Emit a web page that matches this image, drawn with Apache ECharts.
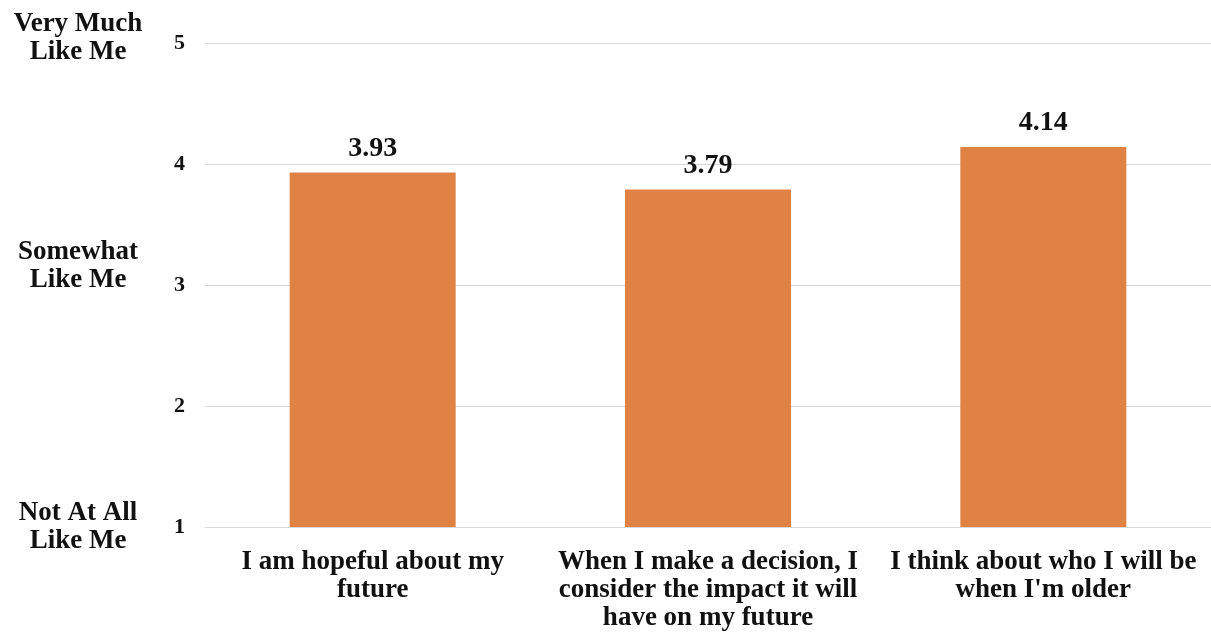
<!DOCTYPE html>
<html>
<head>
<meta charset="utf-8">
<script src="https://cdn.jsdelivr.net/npm/echarts@6/dist/echarts.min.js"></script>
<style>
  html, body { margin: 0; padding: 0; background: #fff; }
  #chart { width: 1211px; height: 637px; }
</style>
</head>
<body>
<div id="chart"></div>
<script>
const categories = [
  "I am hopeful about my\nfuture",
  "When I make a decision, I\nconsider the impact it will\nhave on my future",
  "I think about who I will be\nwhen I'm older"
];
const values = [3.93, 3.79, 4.14];
const yTicks = [1, 2, 3, 4, 5];
const scaleLabels = { 5: "Very Much\nLike Me", 3: "Somewhat\nLike Me", 1: "Not At All\nLike Me" };

const FONT = '"Liberation Serif", "Times New Roman", serif';
const TEXT = '#111111';

const chart = echarts.init(document.getElementById('chart'), null, { renderer: 'canvas' });
chart.setOption({
  animation: false,
  backgroundColor: '#ffffff',
  grid: { left: 205, top: 43, width: 1008, height: 484, containLabel: false },
  xAxis: {
    type: 'category',
    data: categories,
    axisLine: { show: true, lineStyle: { color: '#d9d9d9', width: 1 } },
    axisTick: { show: false },
    axisLabel: {
      interval: 0,
      margin: 21,
      color: TEXT,
      fontFamily: FONT,
      fontWeight: 'bold',
      fontSize: 27,
      lineHeight: 28,
      align: 'center'
    }
  },
  yAxis: [
    {
      type: 'value',
      min: yTicks[0],
      max: yTicks[yTicks.length - 1],
      interval: 1,
      axisLine: { show: false },
      axisTick: { show: false },
      splitLine: { show: true, lineStyle: { color: '#d9d9d9', width: 1 } },
      axisLabel: {
        margin: 20,
        color: TEXT,
        fontFamily: FONT,
        fontWeight: 'bold',
        fontSize: 22
      }
    },
    {
      type: 'value',
      position: 'left',
      min: 1,
      max: 5,
      interval: 1,
      axisLine: { show: false },
      axisTick: { show: false },
      splitLine: { show: false },
      axisLabel: {
        margin: 127,
        align: 'center',
        formatter: function (v) {
          const t = scaleLabels[v];
          if (!t) return '';
          const lines = t.split('\n').map(s => '{t|' + s + '}');
          if (v === 5) lines.push('{s1| }');
          if (v === 3) lines.push('{s3| }');
          return lines.join('\n');
        },
        rich: {
          t: { fontFamily: FONT, fontWeight: 'bold', fontSize: 27, lineHeight: 28, color: TEXT, align: 'center' },
          s1: { fontSize: 6, lineHeight: 9 },
          s3: { fontSize: 10, lineHeight: 38 }
        }
      }
    }
  ],
  series: [{
    type: 'bar',
    data: values,
    barWidth: '49.5%',
    itemStyle: { color: '#E08244' },
    label: {
      show: true,
      position: 'top',
      distance: 10,
      color: TEXT,
      fontFamily: FONT,
      fontWeight: 'bold',
      fontSize: 28,
      formatter: p => p.value.toFixed(2)
    }
  }]
});
</script>
</body>
</html>
